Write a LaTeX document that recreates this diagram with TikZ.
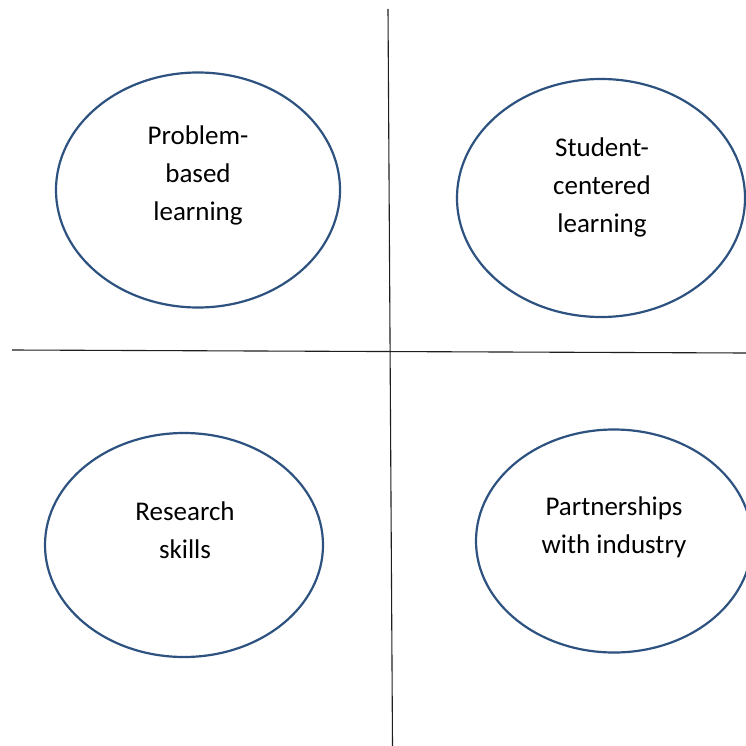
\documentclass[tikz,border=0pt]{standalone}
\usepackage{fontspec}
\setmainfont{Carlito}
\usetikzlibrary{shapes.geometric}
\definecolor{ringblue}{RGB}{45,82,128}
\definecolor{axisgray}{RGB}{30,30,30}
\tikzset{
  ring/.style={draw=ringblue, line width=2.2pt, ellipse, inner sep=0pt, fill=none},
  label/.style={align=center, anchor=base, font=\fontsize{27}{38}\selectfont, text=black, inner sep=0pt},
  axis/.style={draw=axisgray, line width=1.1pt}
}
\begin{document}
\begin{tikzpicture}[x=1pt,y=-1pt]
\useasboundingbox (0,0) rectangle (746,746);
\clip (0,0) rectangle (746,746);
\fill[white] (0,0) rectangle (746,746);
% axes
\coordinate (vtop) at (388,9);
\coordinate (vbot) at (392.5,746);
\coordinate (hleft) at (12,350);
\coordinate (hright) at (746,353);
\draw[axis] (vtop) -- (vbot);
\draw[axis] (hleft) -- (hright);
% ellipses
\node[ring, minimum width=284pt, minimum height=235pt] (pbl) at (198,190) {};
\node[ring, minimum width=288pt, minimum height=238pt] (scl) at (601,198) {};
\node[ring, minimum width=278pt, minimum height=224pt] (rs) at (184,545) {};
\node[ring, minimum width=276pt, minimum height=223pt] (pwi) at (614,541) {};
% texts (anchor = baseline of last line)
\node[label] (pblt) at (198,220) {Problem-\\based\\learning};
\node[label] (sclt) at (602,232) {Student-\\centered\\learning};
\node[label] (rst) at (185,558) {Research\\skills};
\node[label] (pwit) at (614,553) {Partnerships\\with industry};
\end{tikzpicture}
\end{document}
